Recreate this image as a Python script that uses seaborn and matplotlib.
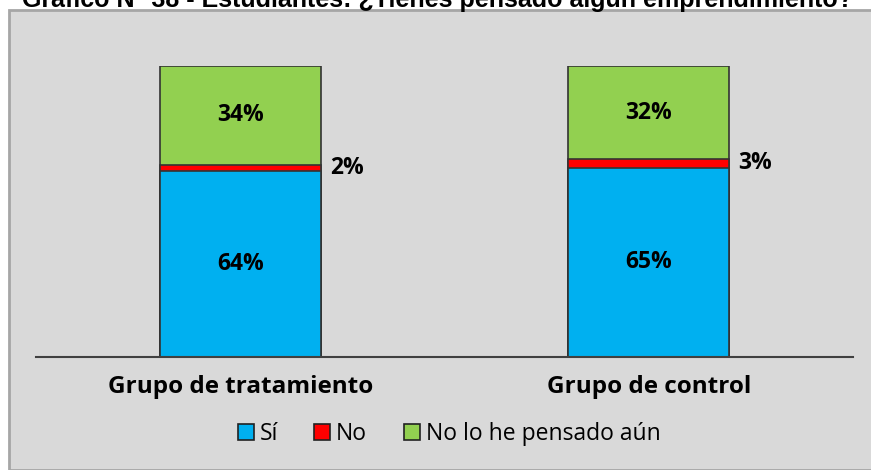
import matplotlib
matplotlib.use("Agg")
import matplotlib.pyplot as plt
import matplotlib.patches as mpatches
import seaborn as sns
import pandas as pd

categories = ["Grupo de tratamiento", "Grupo de control"]
si = [64, 65]
no = [2, 3]
no_pensado = [34, 32]
series_names = ["Sí", "No", "No lo he pensado aún"]
colors = ["#00B0F0", "#FF0000", "#92D050"]
title = "Gráfico N° 38 - Estudiantes: ¿Tienes pensado algún emprendimiento?"

sns.set_theme(style="white")
plt.rcParams['font.family'] = ['Open Sans', 'DejaVu Sans']

fig = plt.figure(figsize=(8.71, 4.70), dpi=100)
fig.patch.set_facecolor("white")

# gray panel
panel = mpatches.Rectangle((9/871, 0), 1 - 9/871 + 0.01, 1 - 10/470, transform=fig.transFigure,
                           facecolor="#D9D9D9", edgecolor="#A6A6A6", linewidth=2, zorder=-5)
fig.patches.append(panel)

ax = fig.add_axes([36/871, 1 - 357/470, (853 - 36)/871, (357 - 66)/470])
ax.set_facecolor("none")
ax.set_zorder(2)

df = pd.DataFrame({"cat": categories, "si": si, "no": no, "np": no_pensado})
df["c1"] = df["si"]
df["c2"] = df["si"] + df["no"]
df["c3"] = df["si"] + df["no"] + df["np"]

for col, colr in zip(["c3", "c2", "c1"], [colors[2], colors[1], colors[0]]):
    sns.barplot(data=df, x="cat", y=col, color=colr, width=0.395, ax=ax,
                edgecolor="#333333", linewidth=1.2, saturation=1, errorbar=None)

ax.set_xlim(-0.5, 1.5)
ax.set_ylim(0, 100)
ax.set_xlabel("")
ax.set_ylabel("")
ax.set_yticks([])
for s in ["top", "right", "left"]:
    ax.spines[s].set_visible(False)
ax.spines["bottom"].set_color("#404040")
ax.spines["bottom"].set_linewidth(1.5)
ax.tick_params(axis="x", length=0, pad=13)
ax.set_xticks(range(len(categories)))
ax.set_xticklabels(categories, fontsize=17.5, fontweight="bold", color="black")

for i in range(len(categories)):
    ax.text(i, si[i] / 2, f"{si[i]}%", ha="center", va="center", fontsize=16.5, fontweight="bold", color="black")
    ax.text(i, si[i] + no[i] + no_pensado[i] / 2, f"{no_pensado[i]}%", ha="center", va="center",
            fontsize=16.5, fontweight="bold", color="black")
    ax.text(i + 0.395 / 2 + 0.022, si[i] + no[i] / 2, f"{no[i]}%", ha="left", va="center",
            fontsize=16.5, fontweight="bold", color="black")

handles = [mpatches.Patch(facecolor=c, edgecolor="#222222", linewidth=1.2) for c in colors]
fig.legend(handles, series_names, loc="center", bbox_to_anchor=(449/871, 1 - 434/470), ncol=3,
           frameon=False, fontsize=16.5, handlelength=0.7, handleheight=0.7, handletextpad=0.25,
           columnspacing=1.6, labelcolor="black")

fig.text(22/871, 1 - 7/470, title, ha="left", va="baseline", fontsize=18, fontweight="bold",
         family=["Liberation Sans", "DejaVu Sans"], color="black")

fig.savefig("out.png", dpi=100)
